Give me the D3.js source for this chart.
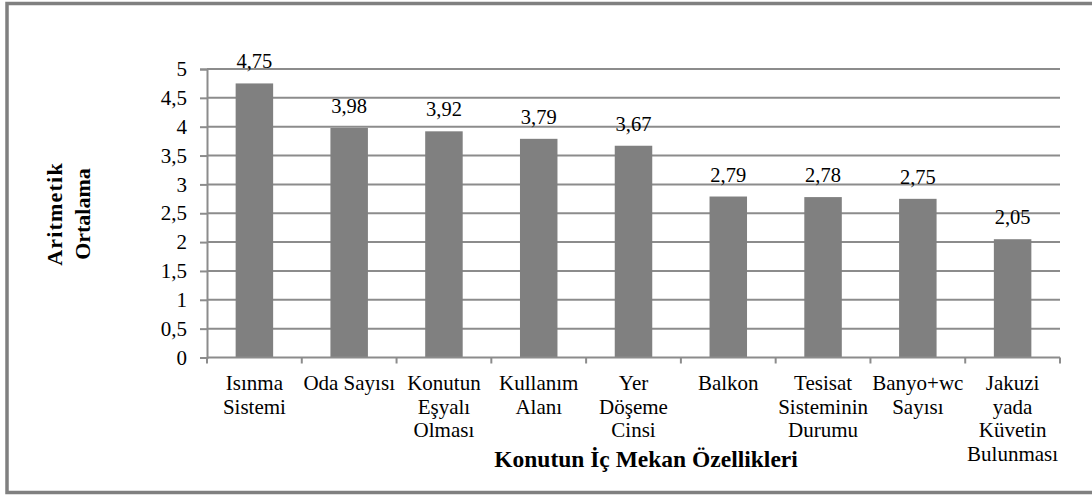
<!DOCTYPE html>
<html><head><meta charset="utf-8">
<script src="https://cdn.jsdelivr.net/npm/d3@7"></script>
<style>body{margin:0;background:#fff}svg{display:block}text{font-family:"Liberation Serif","Times New Roman",serif;fill:#000}</style>
</head><body><svg id="c" width="1092" height="496"></svg>
<script>
const categories = [
  ["Isınma","Sistemi"],
  ["Oda Sayısı"],
  ["Konutun","Eşyalı","Olması"],
  ["Kullanım","Alanı"],
  ["Yer","Döşeme","Cinsi"],
  ["Balkon"],
  ["Tesisat","Sisteminin","Durumu"],
  ["Banyo+wc","Sayısı"],
  ["Jakuzi","yada","Küvetin","Bulunması"]
];
const values = [4.75, 3.98, 3.92, 3.79, 3.67, 2.79, 2.78, 2.75, 2.05];
const yTicks = [0, 0.5, 1, 1.5, 2, 2.5, 3, 3.5, 4, 4.5, 5];
const yTitle = ["Aritmetik", "Ortalama"];
const xTitle = "Konutun İç Mekan Özellikleri";

const svg = d3.select("#c");
const L = 207, R = 1060, T = 69, B = 357.5;
const fmt = v => String(v).replace(".", ",");

// border
svg.append("path").attr("d", "M1100,3.5 H7 V492.5 H1100")
  .attr("fill", "none").attr("stroke", "#808080").attr("stroke-width", 3.5);

const x = d3.scaleBand().domain(d3.range(categories.length)).range([L, R]).padding(0);
const y = d3.scaleLinear().domain([0, 5]).range([B, T]);
const gridColor = "#8c8c8c";

// gridlines
svg.append("g").selectAll("line").data(yTicks.filter(d => d > 0)).join("line")
  .attr("x1", L).attr("x2", R).attr("y1", d => y(d)).attr("y2", d => y(d))
  .attr("stroke", gridColor).attr("stroke-width", 2);

// y axis
const ya = svg.append("g").attr("transform", `translate(${L},0)`)
  .call(d3.axisLeft(y).tickValues(yTicks).tickSize(7).tickPadding(13).tickFormat(fmt));
ya.select(".domain").attr("stroke", gridColor).attr("stroke-width", 2);
ya.selectAll(".tick line").attr("stroke", gridColor).attr("stroke-width", 2);
ya.selectAll(".tick text").attr("font-size", 21).attr("font-family", "Liberation Serif").attr("fill", "#000");

// bars
const bw = 37.5;
svg.append("g").selectAll("rect").data(values).join("rect")
  .attr("x", (d, i) => x(i) + x.bandwidth() / 2 - bw / 2)
  .attr("width", bw)
  .attr("y", d => y(d)).attr("height", d => y(0) - y(d))
  .attr("fill", "#808080");

// value labels
svg.append("g").selectAll("text").data(values).join("text")
  .attr("x", (d, i) => x(i) + x.bandwidth() / 2)
  .attr("y", d => y(d) - 15)
  .attr("text-anchor", "middle").attr("font-size", 20.5)
  .text(fmt);

// x axis
svg.append("line").attr("x1", L).attr("x2", R).attr("y1", B).attr("y2", B)
  .attr("stroke", gridColor).attr("stroke-width", 2);
svg.append("g").selectAll("line").data(d3.range(categories.length + 1)).join("line")
  .attr("x1", i => i < categories.length ? x(i) : R).attr("x2", i => i < categories.length ? x(i) : R)
  .attr("y1", B).attr("y2", B + 6)
  .attr("stroke", gridColor).attr("stroke-width", 2);

// category labels
const cl = svg.append("g").selectAll("text").data(categories).join("text")
  .attr("text-anchor", "middle").attr("font-size", 21)
  .attr("transform", (d, i) => `translate(${x(i) + x.bandwidth() / 2},390)`);
cl.selectAll("tspan").data(d => d).join("tspan")
  .attr("x", 0).attr("y", (d, j) => j * 23.5).text(d => d);

// y title
const yt = svg.append("text").attr("transform", "rotate(-90)")
  .attr("text-anchor", "middle").attr("font-weight", "bold").attr("font-size", 22);
yt.selectAll("tspan").data(yTitle).join("tspan")
  .attr("x", -214).attr("y", (d, j) => 62 + j * 27.5)
  .attr("letter-spacing", (d, j) => j === 0 ? 1.2 : 0)
  .text(d => d);

// x title
svg.append("text").attr("x", 646).attr("y", 467).attr("text-anchor", "middle")
  .attr("font-weight", "bold").attr("font-size", 23.5).text(xTitle);
</script></body></html>
